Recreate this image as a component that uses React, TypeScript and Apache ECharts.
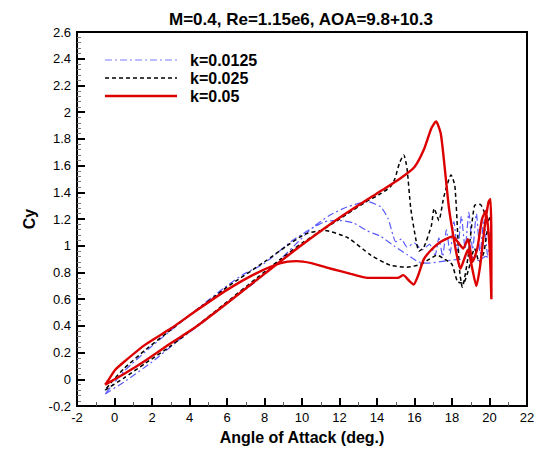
import React, { useEffect, useRef } from "react";
import * as echarts from "echarts";

const titleText = "M=0.4, Re=1.15e6, AOA=9.8+10.3";
const seriesNames = ["k=0.0125", "k=0.025", "k=0.05"];

// k=0.0125 (blue dash-dot)
const k0125Up: number[][] = [
  [-0.5, -0.11], [0.5, -0.02], [2, 0.13], [3.4, 0.29], [4.74, 0.43], [6.2, 0.59], [7.6, 0.74],
  [8.86, 0.9], [9.8, 1.03], [10.6, 1.14], [11.5, 1.23], [12.4, 1.29], [13.5, 1.33],
  [14.2, 1.29], [14.6, 1.2], [14.85, 1.08], [15.0, 1.03], [15.3, 1.05], [15.6, 0.99], [16.0, 1.02],
  [16.4, 0.97], [16.8, 1.01], [17.1, 0.93], [17.3, 1.06], [17.5, 0.92], [17.7, 1.12], [17.9, 0.94],
  [18.1, 1.18], [18.3, 0.96], [18.5, 1.22], [18.7, 0.98], [18.9, 1.25], [19.1, 0.97], [19.3, 1.24],
  [19.5, 0.94], [19.7, 1.2], [19.9, 0.93], [20.1, 1.1],
];
const k0125Down: number[][] = [
  [20.1, 0.9], [19.8, 0.92], [19.4, 0.89], [19.0, 0.92], [18.5, 0.9], [17.8, 0.89], [16.7, 0.87],
  [16.2, 0.88], [15.65, 0.93], [14.9, 1.0], [14.2, 1.07], [13.5, 1.11], [12.76, 1.17],
  [11.9, 1.19], [11.2, 1.18], [10.4, 1.12], [9.4, 1.03], [8.0, 0.87], [6.8, 0.78], [5.8, 0.68],
  [4.0, 0.48], [2.0, 0.25], [0.5, 0.06], [-0.1, -0.04], [-0.5, -0.11],
];

// k=0.025 (black dashed)
const k025Up: number[][] = [
  [-0.5, -0.08], [0.5, 0.01], [1.64, 0.12], [3, 0.25], [4.3, 0.39], [6, 0.58], [7.6, 0.76],
  [8.86, 0.9], [10, 1.02], [11, 1.11], [12, 1.2], [13.3, 1.32], [14.2, 1.39], [14.7, 1.44],
  [14.95, 1.5], [15.2, 1.62], [15.43, 1.68], [15.6, 1.58], [15.8, 1.28], [16.07, 1.05],
  [16.24, 0.96], [16.5, 0.99], [16.9, 1.15], [17.05, 1.28], [17.3, 1.19], [17.57, 1.37],
  [17.95, 1.53], [18.15, 1.45], [18.3, 1.1], [18.4, 0.82], [18.55, 0.69], [18.85, 0.91],
  [19.2, 1.3], [19.5, 1.31], [19.7, 1.26], [19.9, 1.18], [20.05, 1.22],
];
const k025Down: number[][] = [
  [20.1, 0.62], [20.05, 1.0], [19.9, 1.12], [19.7, 0.95], [19.45, 0.88], [19.2, 0.98],
  [18.9, 0.83], [18.6, 0.72], [18.3, 0.73], [18.0, 0.86], [17.6, 0.9], [17.2, 0.93],
  [16.8, 0.9], [16.3, 0.86], [15.6, 0.84], [14.7, 0.855], [13.67, 0.93], [12.44, 1.06],
  [11.16, 1.115], [10.2, 1.09], [9.2, 1.0], [8.0, 0.88], [6, 0.69], [4.2, 0.5], [3, 0.37],
  [1.64, 0.22], [0.5, 0.08], [-0.1, -0.01], [-0.5, -0.08],
];

// k=0.05 (red solid)
const k05Up: number[][] = [
  [-0.5, -0.04], [0.5, 0.04], [1.64, 0.14], [3, 0.27], [4.31, 0.39], [6, 0.57], [8, 0.79],
  [9.93, 1.0], [12, 1.21], [14.2, 1.41], [15.2, 1.5], [16, 1.59], [16.5, 1.72], [16.9, 1.88],
  [17.15, 1.93], [17.4, 1.84], [17.6, 1.6], [17.84, 1.28], [18.1, 1.05], [18.3, 0.9],
  [18.45, 0.83], [18.65, 0.9], [18.85, 0.97], [19.05, 0.85], [19.3, 0.7], [19.5, 0.85],
  [19.75, 1.15], [19.95, 1.33], [20.05, 1.35], [20.1, 1.0],
];
const k05Down: number[][] = [
  [20.1, 0.6], [20.0, 1.0], [19.8, 1.26], [19.6, 1.2], [19.35, 0.98], [19.1, 0.88],
  [18.85, 1.05], [18.6, 0.98], [18.35, 1.02], [18.05, 1.07], [17.4, 1.03], [16.9, 0.97],
  [16.5, 0.9], [16.2, 0.78], [15.95, 0.71], [15.7, 0.74], [15.4, 0.78], [15.1, 0.76],
  [14.5, 0.76], [13.5, 0.76], [12.6, 0.79], [11.5, 0.83], [10.5, 0.87], [9.7, 0.885],
  [8.86, 0.87], [7.5, 0.79], [6, 0.67], [4.31, 0.51], [3, 0.38], [1.64, 0.26], [0.5, 0.13],
  [0.03, 0.07], [-0.3, 0.0], [-0.5, -0.04],
];

const FONT = "Arial, 'Liberation Sans', sans-serif";
const colors = ["#5a5aff", "#000000", "#dd0000"];
const widths = [1.2, 1.5, 2.4];
const dashes: (number[] | null)[] = [[7, 3, 2, 3], [4, 3], null];

export default function App() {
  const ref = useRef<HTMLDivElement>(null);
  useEffect(() => {
    if (!ref.current) return;
    const chart = echarts.init(ref.current, null, { renderer: "svg" });
    const legendGraphics: any[] = [];
    seriesNames.forEach((name, i) => {
      const y = 60 + i * 18;
      legendGraphics.push({
        type: "line",
        shape: { x1: 105, y1: y, x2: 177, y2: y },
        style: {
          stroke: i === 0 ? "#7a7aff" : colors[i],
          lineWidth: widths[i],
          lineDash: dashes[i] || undefined,
        },
        z: 10,
      });
      legendGraphics.push({
        type: "text",
        x: 190,
        y,
        style: {
          text: name,
          font: `bold 16px ${FONT}`,
          fill: "#000",
          verticalAlign: "middle",
          align: "left",
        },
        z: 10,
      });
    });
    const makeSeries = (i: number, data: number[][]) => ({
      name: seriesNames[i],
      type: "line",
      symbol: "none",
      smooth: 0.2,
      data,
      lineStyle: { color: colors[i], width: widths[i], type: dashes[i] || "solid" },
      itemStyle: { color: colors[i] },
      z: 2 + i,
    });
    chart.setOption({
      animation: false,
      backgroundColor: "#fff",
      title: {
        text: titleText,
        left: 296,
        top: 6,
        textAlign: "center",
        textStyle: { fontFamily: FONT, fontSize: 17, fontWeight: "bold", color: "#000" },
      },
      graphic: legendGraphics,
      grid: {
        left: 77,
        right: 11,
        top: 32,
        bottom: 41,
        show: true,
        borderColor: "#000",
        borderWidth: 2,
        containLabel: false,
      },
      xAxis: {
        type: "value",
        min: -2,
        max: 22,
        interval: 2,
        name: "Angle of Attack (deg.)",
        nameLocation: "middle",
        nameGap: 20,
        nameTextStyle: { fontFamily: FONT, fontSize: 16, fontWeight: "bold", color: "#000" },
        axisLine: { show: true, onZero: false, lineStyle: { color: "#000", width: 2 } },
        axisTick: { show: true, inside: true, length: 8, lineStyle: { color: "#000", width: 2 } },
        minorTick: { show: true, splitNumber: 2, length: 4, lineStyle: { color: "#555", width: 1 } },
        splitLine: { show: false },
        axisLabel: { color: "#000", fontFamily: FONT, fontSize: 13, margin: 5 },
      },
      yAxis: {
        type: "value",
        min: -0.2,
        max: 2.6,
        interval: 0.2,
        name: "Cy",
        nameLocation: "middle",
        nameGap: 17,
        nameRotate: 90,
        nameTextStyle: { fontFamily: FONT, fontSize: 16, fontWeight: "bold", color: "#000" },
        axisLine: { show: true, onZero: false, lineStyle: { color: "#000", width: 2 } },
        axisTick: { show: true, inside: true, length: 8, lineStyle: { color: "#000", width: 2 } },
        minorTick: { show: true, splitNumber: 5, length: 4, lineStyle: { color: "#777", width: 1 } },
        splitLine: { show: false },
        axisLabel: {
          color: "#000",
          fontFamily: FONT,
          fontSize: 13,
          margin: 6,
          formatter: (v: number) => String(+v.toFixed(1)),
        },
      },
      series: [
        makeSeries(0, [...k0125Up, ...k0125Down]),
        makeSeries(1, [...k025Up, ...k025Down]),
        makeSeries(2, [...k05Up, ...k05Down]),
      ],
    });
    return () => chart.dispose();
  }, []);
  return (
    <div
      ref={ref}
      style={{ position: "fixed", left: 0, top: 0, width: 538, height: 450 }}
    />
  );
}
